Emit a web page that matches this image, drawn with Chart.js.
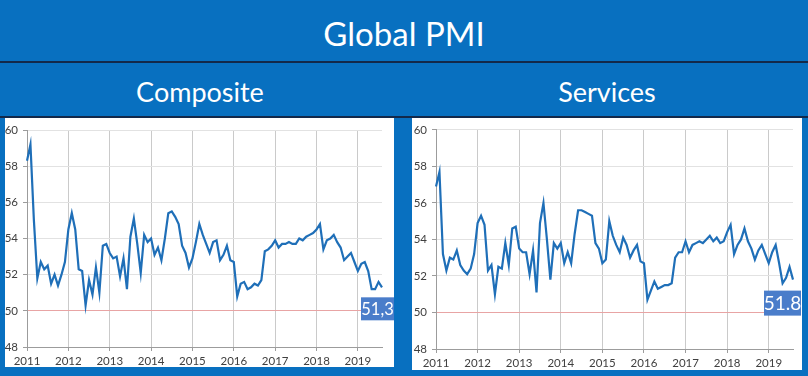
<!DOCTYPE html>
<html>
<head>
<meta charset="utf-8">
<script src="https://cdn.jsdelivr.net/npm/chart.js@4.4.1/dist/chart.umd.min.js"></script>
<style>
  html, body { margin: 0; padding: 0; }
  body { width: 808px; height: 376px; background: #0870c0; position: relative; overflow: hidden; font-family: Lato, 'Open Sans', sans-serif; }
  .title { position: absolute; left: 0; top: 0; width: 808px; height: 62px; line-height: 66px; text-align: center; color: #fff; font-size: 33px; }
  .rule { position: absolute; left: 0; width: 808px; height: 2px; background: #13294a; }
  .sub { position: absolute; top: 64px; width: 400px; height: 53px; line-height: 56px; text-align: center; color: #fff; font-size: 27px; }
  .panel { position: absolute; background: #fff; }
</style>
</head>
<body>
<div class="title">Global PMI</div>
<div class="rule" style="top:61px"></div>
<div class="sub" style="left:0">Composite</div>
<div class="sub" style="left:407px">Services</div>
<div class="rule" style="top:116px;height:2px"></div>
<div class="panel" style="left:5px;top:118px;width:389px;height:249px"><canvas id="composite"></canvas></div>
<div class="panel" style="left:412px;top:118px;width:390px;height:252px"><canvas id="services"></canvas></div>

<script>
// monthly data Jan 2011 - Aug 2019
const years = ['2011', '2012', '2013', '2014', '2015', '2016', '2017', '2018', '2019'];
const monthsInLastYear = 8;

const months = [];
years.forEach((y, i) => {
    const n = i < years.length - 1 ? 12 : monthsInLastYear;
    for (let m = 1; m <= n; m++) months.push(y + '-' + String(m).padStart(2, '0'));
});

const composite = [
    58.3, 59.2, 55.0, 51.8, 52.7, 52.3, 52.5, 51.5, 52.0, 51.4,
    52.0, 52.7, 54.5, 55.4, 54.5, 52.3, 52.2, 50.3, 51.7, 50.9,
    52.4, 51.0, 53.6, 53.7, 53.2, 52.9, 53.0, 51.9, 52.9, 51.2,
    54.1, 55.1, 53.7, 52.1, 54.2, 53.8, 54.0, 53.1, 53.5, 52.8,
    54.0, 55.4, 55.5, 55.2, 54.8, 53.6, 53.2, 52.4, 52.9, 53.8,
    54.8, 54.2, 53.7, 53.2, 53.8, 53.9, 52.8, 53.1, 53.6, 52.8,
    52.7, 50.8, 51.5, 51.6, 51.2, 51.3, 51.5, 51.4, 51.7, 53.3,
    53.4, 53.6, 53.9, 53.5, 53.7, 53.7, 53.8, 53.7, 53.7, 54.0,
    53.9, 54.1, 54.2, 54.3, 54.5, 54.8, 53.4, 53.9, 54.0, 54.2,
    53.8, 53.5, 52.8, 53.0, 53.2, 52.7, 52.2, 52.6, 52.7, 52.2,
    51.2, 51.2, 51.6, 51.3
];

const services = [
    56.9, 57.7, 53.2, 52.3, 53.0, 52.9, 53.4, 52.6, 52.3, 52.1,
    52.4, 53.2, 54.9, 55.3, 54.8, 52.3, 52.6, 51.0, 52.5, 52.4,
    53.8, 52.6, 54.6, 54.7, 53.5, 53.3, 53.3, 52.1, 53.4, 51.1,
    54.9, 56.0, 54.0, 51.8, 53.8, 53.5, 53.8, 52.7, 53.3, 52.7,
    54.3, 55.6, 55.6, 55.5, 55.4, 55.3, 53.8, 53.5, 52.7, 52.9,
    55.0, 54.2, 53.7, 53.3, 54.1, 53.7, 53.0, 53.4, 53.7, 52.8,
    52.7, 50.7, 51.2, 51.7, 51.3, 51.4, 51.5, 51.5, 51.6, 53.0,
    53.3, 53.3, 53.9, 53.3, 53.7, 53.8, 53.9, 53.8, 54.0, 54.2,
    53.9, 54.1, 53.8, 53.9, 54.4, 54.8, 53.2, 53.7, 54.0, 54.6,
    53.9, 53.5, 52.9, 53.4, 53.7, 53.2, 52.7, 53.3, 53.7, 52.7,
    51.6, 51.9, 52.5, 51.8
];

const yMin = 48, yMax = 60, yStep = 2;
const threshold = 50;

// box with the latest reading, drawn next to the last point
const lastLabel = {
    id: 'lastLabel',
    afterDatasetsDraw(chart, args, o) {
        const data = chart.data.datasets[0].data;
        const i = data.length - 1;
        const x = chart.scales.x.getPixelForValue(i);
        const y = chart.scales.y.getPixelForValue(data[i]);
        const ctx = chart.ctx;
        ctx.save();
        ctx.fillStyle = '#4a7dca';
        ctx.fillRect(x + o.dx, y + o.dy, o.w, o.h);
        ctx.fillStyle = '#fff';
        ctx.font = o.size + 'px Lato, "Open Sans", sans-serif';
        ctx.textAlign = 'center';
        ctx.textBaseline = 'middle';
        ctx.fillText(o.text, x + o.dx + o.w / 2, y + o.dy + o.h / 2 + 1);
        ctx.restore();
    }
};

function makeChart(id, values, opt) {
    const ctx = document.getElementById(id).getContext('2d');
    return new Chart(ctx, {
        type: 'line',
        data: {
            labels: months,
            datasets: [{
                data: values,
                borderColor: '#1f6fb8',
                borderWidth: 2.2,
                pointRadius: 0,
                tension: 0,
                fill: false
            }]
        },
        plugins: [lastLabel],
        options: {
            responsive: true,
            maintainAspectRatio: false,
            animation: false,
            layout: { padding: { top: opt.top, right: opt.right, left: 0, bottom: 0 } },
            plugins: {
                legend: { display: false },
                tooltip: { enabled: false },
                lastLabel: opt.label
            },
            scales: {
                x: {
                    type: 'category',
                    offset: false,
                    afterFit(s) { s.height = opt.xh; },
                    border: { display: true, color: '#9c9c9c', width: 1 },
                    grid: { color: '#cacaca', tickColor: '#9c9c9c', tickLength: 4 },
                    ticks: {
                        autoSkip: false,
                        maxRotation: 0,
                        minRotation: 0,
                        padding: 3,
                        color: '#404040',
                        font: { family: 'Lato, "Open Sans", sans-serif', size: 11.5 },
                        callback(val) {
                            const l = this.getLabelForValue(val);
                            return l.endsWith('-01') ? l.slice(0, 4) : null;
                        }
                    }
                },
                y: {
                    min: yMin,
                    max: yMax,
                    afterFit(s) { s.width = opt.yw; },
                    border: { display: true, color: '#9c9c9c', width: 1 },
                    grid: {
                        color: c => c.tick && c.tick.value === threshold ? '#e8a4a4' : '#e2e2e2',
                        tickColor: '#9c9c9c',
                        tickLength: 4
                    },
                    ticks: {
                        stepSize: yStep,
                        padding: 5,
                        color: '#404040',
                        font: { family: 'Lato, "Open Sans", sans-serif', size: 11.5 }
                    }
                }
            }
        }
    });
}

makeChart('composite', composite, {
    top: 12, right: 12, xh: 20, yw: 22,
    label: { text: '51,3', size: 16.5, dx: -21, dy: 10, w: 33, h: 23 }
});

makeChart('services', services, {
    top: 11, right: 9, xh: 21, yw: 24,
    label: { text: '51.8', size: 19, dx: -29, dy: 11, w: 37, h: 25 }
});
</script>
</body>
</html>
